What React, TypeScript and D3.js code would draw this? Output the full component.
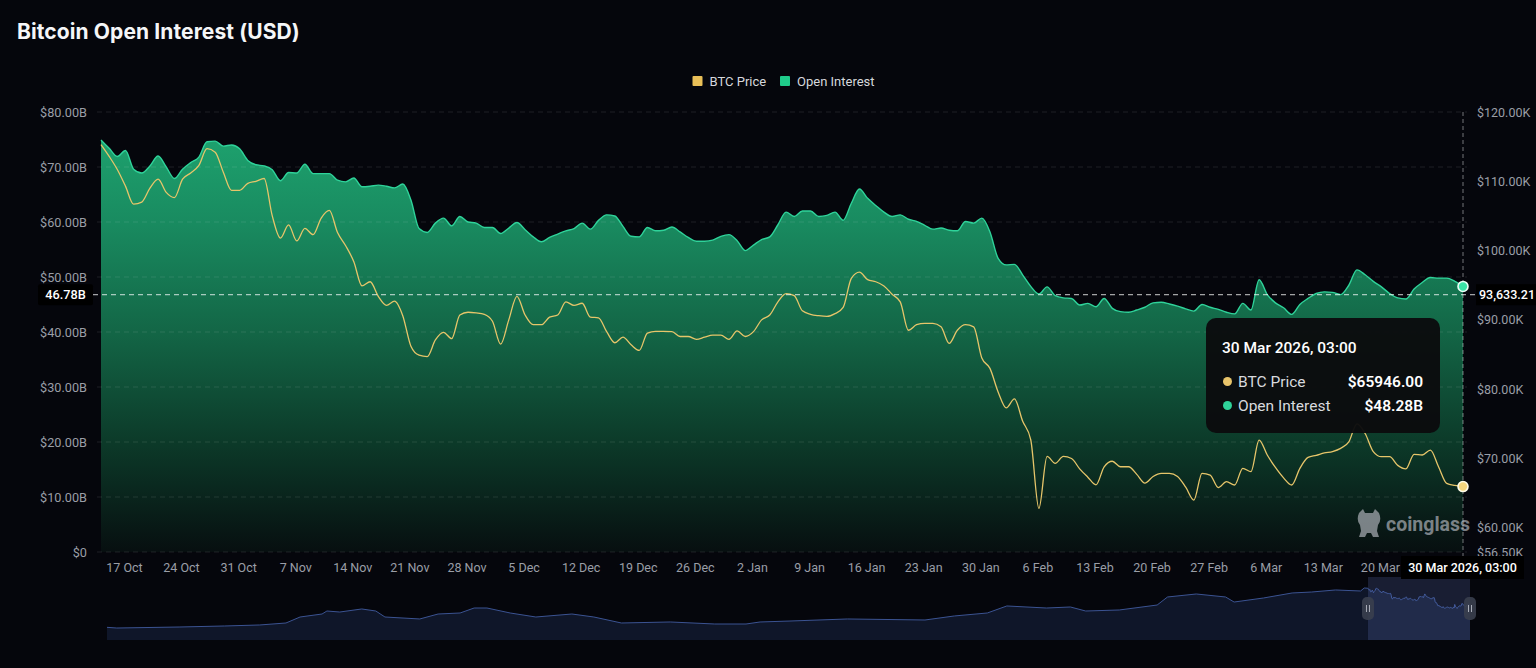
import React, { useEffect } from 'react';
import * as d3 from 'd3';

// ---------------- DATA ----------------
const startDate = new Date(2025, 9, 14, 3, 0, 0); // first daily point, 03:00

// Open Interest (USD billions), daily
const oiValues = [
  74.9, 73.4, 71.9, 73.0, 69.6, 68.9, 70.2, 72.0, 70.0, 67.9, 69.6, 70.8, 71.8, 74.6, 74.7, 73.8, 74.0, 73.3, 71.2, 70.4, 70.2, 69.5, 67.5, 69.0, 68.9, 70.5, 68.8, 68.8, 68.8, 67.6, 67.3, 68.0, 66.4, 66.5, 66.7, 66.5, 66.2, 66.9, 64.0, 58.8, 58.1, 59.8, 60.7,
  59.3, 61.0, 60.0, 59.8, 59.0, 59.0, 57.9, 58.9, 59.9, 58.6, 57.3, 56.4, 57.2, 57.8, 58.4, 58.8, 59.8, 58.7, 60.3, 61.3, 61.1, 59.2, 57.4, 57.3, 59.0, 58.4, 58.5, 59.1, 58.2, 57.2, 56.5, 56.5, 56.7, 57.4, 57.7, 56.6, 54.8, 55.8, 56.8, 57.3, 59.5, 61.8,
  61.0, 62.0, 62.0, 61.0, 61.2, 61.8, 60.3, 63.4, 66.0, 64.3, 63.0, 61.8, 61.0, 61.3, 60.5, 60.1, 59.4, 58.7, 58.9, 58.5, 58.4, 60.1, 59.8, 60.7, 58.2, 53.4, 52.2, 52.3, 50.4, 48.3, 46.9, 48.2, 46.6, 46.2, 46.1, 44.9, 45.2, 44.6, 46.1, 44.3, 43.7, 43.6,
  44.0, 44.5, 45.3, 45.4, 45.1, 44.7, 44.2, 43.8, 45.0, 44.5, 44.1, 43.6, 43.3, 45.2, 44.0, 49.5, 46.8, 45.3, 44.4, 43.2, 45.0, 46.1, 47.0, 47.3, 47.2, 46.8, 48.5, 51.3, 50.4, 49.2, 48.2, 47.0, 46.2, 46.0, 47.8, 49.0, 49.9, 49.8, 49.8, 49.2, 48.28,
];

// BTC price (USD), daily
const btcValues = [
  115300, 113600, 111700, 109300, 106700, 107000, 109000, 110300, 108400, 107650, 110300, 111200, 112300, 114700, 114200, 111300, 108700, 108700, 109700, 110000, 110400, 105000, 101800, 103700, 101400, 103200, 102300, 104700, 105800, 102600, 100700, 98400, 94900, 95500, 93400, 92100, 92700, 90600, 86200, 84900, 84700, 87100, 88200,
  87300, 90700, 91100, 91000, 90800, 89800, 86500, 90000, 93400, 90700, 89300, 89300, 90400, 90700, 92600, 92100, 92400, 90400, 90300, 88300, 86700, 87500, 86400, 85600, 88100, 88350, 88350, 88300, 87600, 87600, 87200, 87500, 87800, 87800, 87200, 88400, 87600, 88300, 90000, 90700, 92600, 93800,
  93500, 91300, 90800, 90600, 90500, 90900, 91800, 96000, 96900, 95800, 95500, 94900, 93700, 92600, 88500, 89300, 89500, 89500, 89000, 86600, 88500, 89300, 89000, 84500, 83000, 79600, 77300, 78600, 75400, 72700, 62800, 70300, 69300, 70300, 70000, 68500, 67300, 66200, 68800, 69600, 68800, 68800,
  67700, 66450, 67400, 67860, 67860, 67400, 65850, 64000, 67860, 67600, 65800, 66650, 66170, 68580, 68100, 72660, 70500, 68700, 67200, 66170, 68570, 70150, 70450, 70800, 71000, 71460, 72400, 75000, 73600, 71000, 70250, 70250, 69000, 68500, 70600, 70500, 71200, 68800, 66400, 66100, 65946,
];

// Full-history open interest for the zoom slider (USD billions)
const miniDates = [
  '2020-02-19', '2020-03-06', '2020-06-16', '2020-08-29', '2020-10-26', '2020-12-08', '2020-12-31', '2021-02-05', '2021-02-13', '2021-03-06',
  '2021-04-11', '2021-05-04', '2021-05-19', '2021-07-15', '2021-08-14', '2021-09-19', '2021-10-12', '2021-11-02', '2021-12-10', '2022-01-21',
  '2022-03-21', '2022-04-26', '2022-06-10', '2022-08-29', '2022-11-10', '2022-12-31', '2023-01-23', '2023-03-13', '2023-06-15', '2023-10-20',
  '2023-12-07', '2024-01-30', '2024-03-02', '2024-05-06', '2024-06-14', '2024-07-09', '2024-09-02', '2024-11-03', '2024-11-20', '2025-01-06',
  '2025-02-23', '2025-03-09', '2025-04-26', '2025-06-12', '2025-07-14', '2025-08-22', '2025-10-02', '2025-10-08',
];
const miniOI = [
  13.6, 12.5, 14.1, 15.7, 17.3, 20.4, 29.8, 34.5, 39.2, 37.6,
  42.4, 39.2, 29.8, 26.7, 34.5, 36.1, 43.9, 43.9, 36.1, 29.8,
  34.5, 29.8, 20.4, 22.0, 18.8, 18.8, 22.0, 23.5, 26.7, 25.1,
  31.4, 36.1, 47.1, 43.9, 45.5, 39.2, 40.8, 48.6, 61.2, 65.9,
  61.2, 53.3, 59.6, 67.5, 69.0, 72.2, 70.6, 75.3,
];

const leftTicks = [0, 10, 20, 30, 40, 50, 60, 70, 80];
const rightTicks = [56500, 60000, 70000, 80000, 90000, 100000, 110000, 120000];
const xTickDates = [
  '2025-10-17', '2025-10-24', '2025-10-31', '2025-11-07', '2025-11-14', '2025-11-21', '2025-11-28', '2025-12-05',
  '2025-12-12', '2025-12-19', '2025-12-26', '2026-01-02', '2026-01-09', '2026-01-16', '2026-01-23', '2026-01-30',
  '2026-02-06', '2026-02-13', '2026-02-20', '2026-02-27', '2026-03-06', '2026-03-13', '2026-03-20',
];
const crosshairOI = 46.78;
const crosshairBTC = 93633.21;

const seriesNames = ['BTC Price', 'Open Interest'];
const titleText = 'Bitcoin Open Interest (USD)';

// ---------------- STYLE ----------------
const BG = '#05060c';
const YELLOW = '#e6c56a';
const GREEN = '#2fd39a';
const FONT = "Roboto, 'Noto Sans', Arial, sans-serif";
const AXIS_COLOR = '#9a9ea7';

const W = 1536;
const H = 668;
const P = { left: 101, right: 1463, top: 112, bottom: 552 };
const M = { left: 107, right: 1470, top: 585, bottom: 640 };

const parseDay = d3.timeParse('%Y-%m-%d');

export default function App() {
  useEffect(() => {
    document.body.style.margin = '0';
    document.body.style.background = BG;
  }, []);

  const dates = oiValues.map((_, i) => d3.timeDay.offset(startDate, i));
  const endDate = dates[dates.length - 1];

  const x = d3.scaleTime().domain([dates[0], endDate]).range([P.left, P.right]);
  const yL = d3.scaleLinear().domain([0, 80]).range([P.bottom, P.top]);
  const yR = d3.scaleLinear().domain([56500, 120000]).range([P.bottom, P.top]);

  const area = d3
    .area<number>()
    .x((_, i) => x(dates[i]))
    .y0(P.bottom)
    .y1((d) => yL(d))
    .curve(d3.curveMonotoneX);
  const oiLine = d3
    .line<number>()
    .x((_, i) => x(dates[i]))
    .y((d) => yL(d))
    .curve(d3.curveMonotoneX);
  const btcLine = d3
    .line<number>()
    .x((_, i) => x(dates[i]))
    .y((d) => yR(d))
    .curve(d3.curveMonotoneX);

  // minimap
  const miniSeries: [Date, number][] = [
    ...miniDates.map((s, i) => [parseDay(s) as Date, miniOI[i]] as [Date, number]),
    ...oiValues.map((v, i) => [dates[i], v] as [Date, number]),
  ];
  const xm = d3.scaleTime().domain([miniSeries[0][0], endDate]).range([M.left, M.right]);
  const ym = d3.scaleLinear().domain([0, 80]).range([636, M.top]);
  const miniArea = d3
    .area<[Date, number]>()
    .x((d) => xm(d[0]))
    .y0(M.bottom)
    .y1((d) => ym(d[1]));
  const miniLine = d3
    .line<[Date, number]>()
    .x((d) => xm(d[0]))
    .y((d) => ym(d[1]));

  const fmtTick = d3.timeFormat('%-d %b');
  const fmtFull = d3.timeFormat('%-d %b %Y, %H:%M');
  const fmtLeft = (v: number) => (v === 0 ? '$0' : `$${v.toFixed(2)}B`);
  const fmtRight = (v: number) => `$${(v / 1000).toFixed(2)}K`;
  const fmtComma = d3.format(',.2f');

  const lastOI = oiValues[oiValues.length - 1];
  const lastBTC = btcValues[btcValues.length - 1];
  const xEnd = x(endDate);
  const yCross = yL(crosshairOI);

  const tipR = xEnd - 23;
  const tipW = 234;
  const tipX = tipR - tipW;
  const tipY = 318;

  const hStart = xm(dates[0]);
  const hEnd = xm(endDate);

  return (
    <div style={{ position: 'fixed', left: 0, top: 0, width: W, height: H, background: BG }}>
      <svg width={W} height={H} style={{ display: 'block', fontFamily: FONT }}>
        <defs>
          <linearGradient id="oiGrad" gradientUnits="userSpaceOnUse" x1="0" y1={P.top} x2="0" y2={P.bottom}>
            <stop offset="0" stopColor="#1fa872" />
            <stop offset="0.25" stopColor="#198b60" />
            <stop offset="0.5" stopColor="#136646" />
            <stop offset="0.75" stopColor="#0c3a29" />
            <stop offset="1" stopColor="#070f10" />
          </linearGradient>
        </defs>
        <rect x={0} y={0} width={W} height={H} fill={BG} />

        {/* title */}
        <text x={17} y={39} fill="#f5f6f8" fontSize={21} fontWeight={700} fontFamily="Inter, Roboto, sans-serif" letterSpacing={0.1}>
          {titleText}
        </text>

        {/* legend */}
        <g fontSize={13} fill="#d6d8dc">
          <rect x={692.5} y={76} width={10} height={10} fill="#e9bf58" rx={1} />
          <text x={709.5} y={85.5}>{seriesNames[0]}</text>
          <rect x={780} y={76} width={10} height={10} fill="#1fcb8a" rx={1} />
          <text x={797} y={85.5}>{seriesNames[1]}</text>
        </g>

        {/* area */}
        <path d={area(oiValues) || ''} fill="url(#oiGrad)" />

        {/* grid */}
        {leftTicks.map((t) => (
          <line
            key={'g' + t}
            x1={97}
            x2={1467}
            y1={yL(t)}
            y2={yL(t)}
            stroke="#ffffff"
            strokeOpacity={0.1}
            strokeDasharray="5 4"
          />
        ))}

        <path d={oiLine(oiValues) || ''} fill="none" stroke={GREEN} strokeWidth={1.4} />
        <path d={btcLine(btcValues) || ''} fill="none" stroke={YELLOW} strokeWidth={1.3} />

        {/* left axis labels */}
        {leftTicks.map((t) => (
          <text key={'l' + t} x={87} y={yL(t) + 4.5} fill={AXIS_COLOR} fontSize={12.7} textAnchor="end">
            {fmtLeft(t)}
          </text>
        ))}
        {/* right axis labels */}
        {rightTicks.map((t) => (
          <text key={'r' + t} x={1477} y={yR(t) + 4.5} fill={AXIS_COLOR} fontSize={12.5} textAnchor="start">
            {fmtRight(t)}
          </text>
        ))}
        {/* x labels */}
        {xTickDates.map((s) => {
          const d = parseDay(s) as Date;
          return (
            <text key={s} x={x(d)} y={571.5} fill={AXIS_COLOR} fontSize={12.5} textAnchor="middle">
              {fmtTick(d)}
            </text>
          );
        })}

        {/* watermark */}
        <g opacity={0.72} fill="#a7abb2">
          <path d="M1359 513 L1363 509 L1365 513 L1373 513 L1375 509 L1379 513 Q1382 520 1378 525 L1377 531 L1379 537 L1373 537 L1371 533 L1367 533 L1365 537 L1359 537 L1361 531 L1360 525 Q1356 520 1359 513 Z" />
          <text x={1386} y={531} fontSize={19.5} fontWeight={700}>
            coinglass
          </text>
        </g>

        {/* crosshair */}
        <line x1={xEnd} x2={xEnd} y1={P.top} y2={556} stroke="#ffffff" strokeOpacity={0.45} strokeDasharray="4 3" />
        <line x1={93} x2={1476} y1={yCross} y2={yCross} stroke="#ffffff" strokeOpacity={0.8} strokeDasharray="5 4" />
        <rect x={38} y={yCross - 10.5} width={55} height={21} fill="#000" rx={2} />
        <text x={65.5} y={yCross + 4.5} fill="#ffffff" fontSize={12.7} fontWeight={500} textAnchor="middle">
          {`${crosshairOI.toFixed(2)}B`}
        </text>
        <rect x={1476} y={yCross - 10.5} width={62} height={21} fill="#000" />
        <text x={1479} y={yCross + 4.5} fill="#ffffff" fontSize={12.5} fontWeight={500}>
          {fmtComma(crosshairBTC)}
        </text>

        {/* end markers */}
        <circle cx={xEnd} cy={yL(lastOI)} r={5} fill="#3be3a7" stroke="#eafff6" strokeWidth={1.6} />
        <circle cx={xEnd} cy={yR(lastBTC)} r={5} fill="#f4d67e" stroke="#fffbe8" strokeWidth={1.6} />

        {/* tooltip */}
        <rect x={tipX} y={tipY} width={tipW} height={115} rx={10} fill="#0b0b0e" fillOpacity={0.96} />
        <text x={tipX + 16} y={tipY + 35} fill="#ffffff" fontSize={15.5} fontWeight={500}>
          {fmtFull(endDate)}
        </text>
        <circle cx={tipX + 21.5} cy={tipY + 63.5} r={4.5} fill="#e8c46a" />
        <text x={tipX + 32} y={tipY + 69} fill="#d8dadf" fontSize={15.5}>
          {seriesNames[0]}
        </text>
        <text x={tipR - 17} y={tipY + 69} fill="#ffffff" fontSize={15.5} fontWeight={600} textAnchor="end">
          {`$${lastBTC.toFixed(2)}`}
        </text>
        <circle cx={tipX + 21.5} cy={tipY + 87.5} r={4.5} fill="#2fd39a" />
        <text x={tipX + 32} y={tipY + 93} fill="#d8dadf" fontSize={15.5}>
          {seriesNames[1]}
        </text>
        <text x={tipR - 17} y={tipY + 93} fill="#ffffff" fontSize={15.5} fontWeight={600} textAnchor="end">
          {`$${lastOI.toFixed(2)}B`}
        </text>

        {/* minimap */}
        <path d={miniArea(miniSeries) || ''} fill="#0f1629" />
        <path d={miniLine(miniSeries) || ''} fill="none" stroke="#3b5392" strokeWidth={1} />
        <rect x={hStart} y={577} width={hEnd - hStart} height={M.bottom - 577} fill="#6a84d0" fillOpacity={0.2} />
        {[hStart, hEnd].map((hx, i) => (
          <g key={'h' + i}>
            <rect x={hx - 6} y={597} width={12} height={23} rx={5} fill="#3a3f4e" fillOpacity={0.9} />
            <line x1={hx - 1.5} x2={hx - 1.5} y1={605} y2={612} stroke="#a9adb8" strokeWidth={1} />
            <line x1={hx + 1.5} x2={hx + 1.5} y1={605} y2={612} stroke="#a9adb8" strokeWidth={1} />
          </g>
        ))}

        {/* x crosshair label */}
        <rect x={xEnd - 62} y={556} width={123} height={23} fill="#000" />
        <text x={xEnd - 0.5} y={572} fill="#ffffff" fontSize={12.5} fontWeight={500} textAnchor="middle">
          {fmtFull(endDate)}
        </text>
      </svg>
    </div>
  );
}
